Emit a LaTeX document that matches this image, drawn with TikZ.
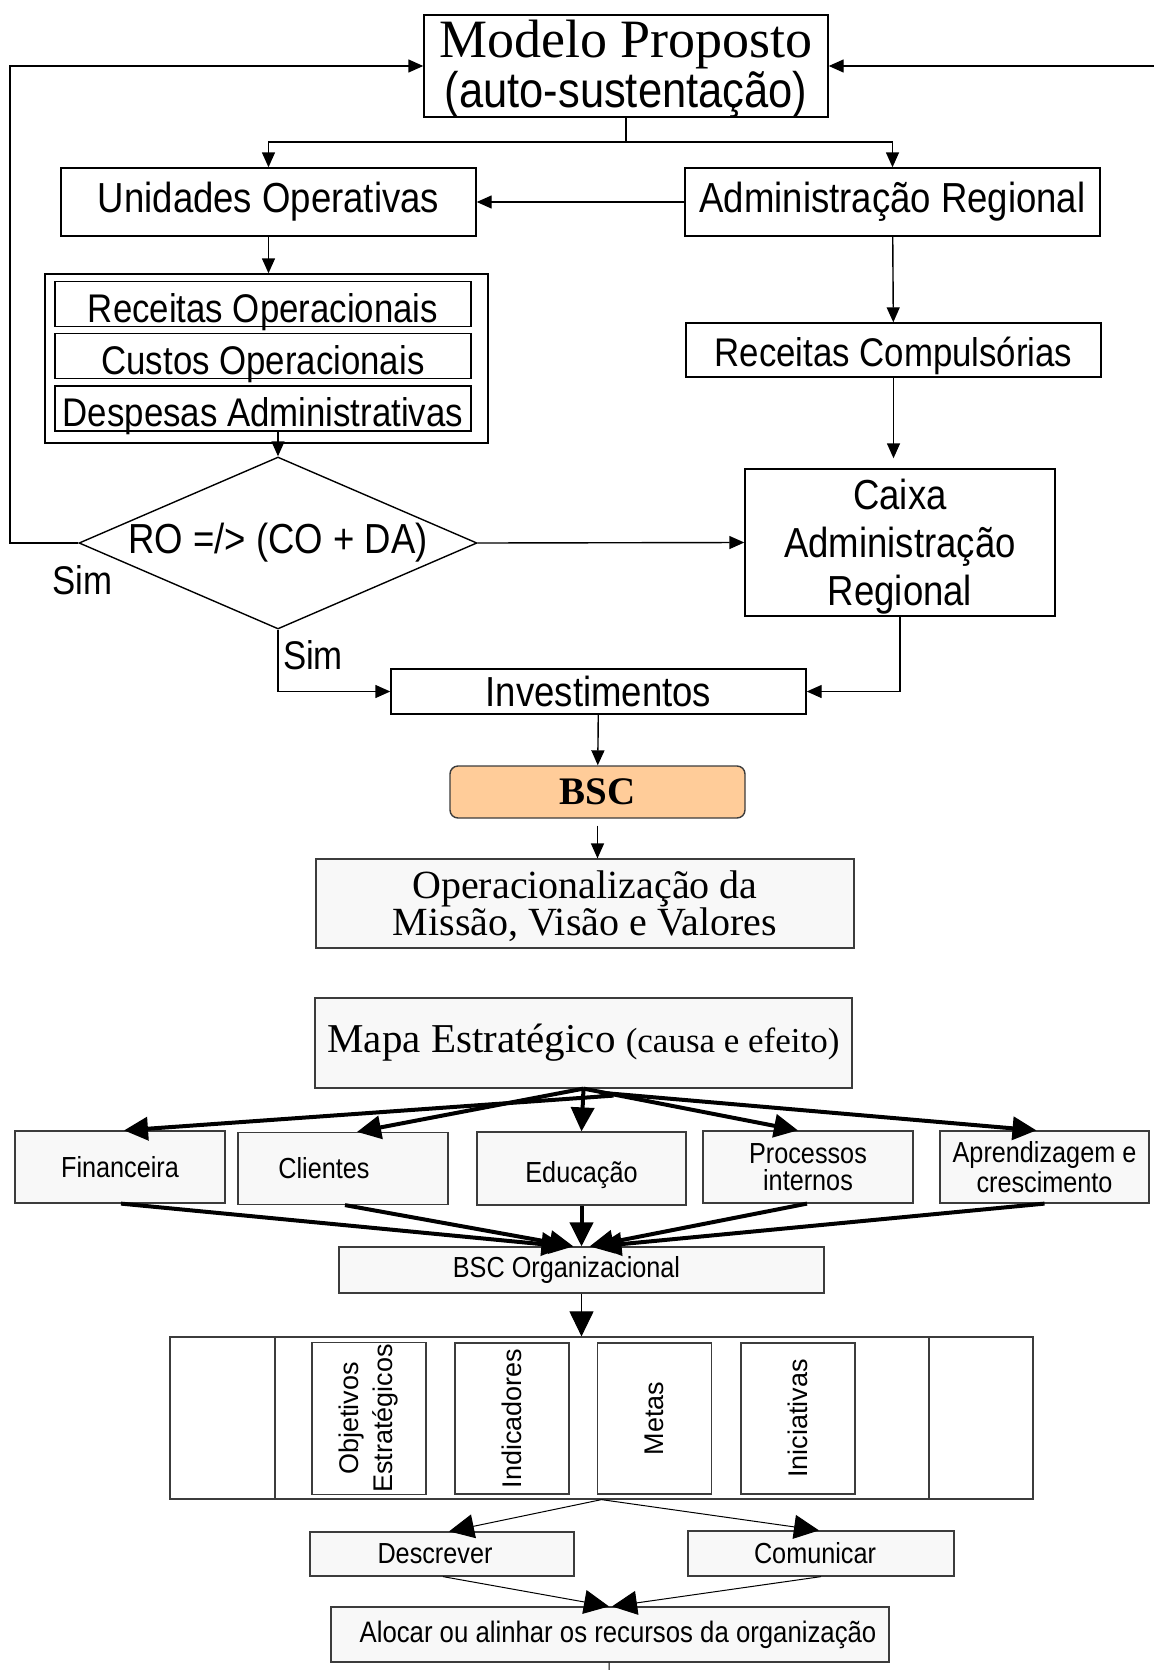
\documentclass[tikz,border=0pt]{standalone}
\usepackage{fontspec}
\setmainfont{Liberation Serif}
\setsansfont{Liberation Sans}
\newfontfamily\narrowsf[FakeStretch=0.87]{Liberation Sans}
\usepackage{xcolor}
\definecolor{ColBSC}{RGB}{255,204,153}
\definecolor{ColBox}{RGB}{248,248,248}
\definecolor{ColLine}{RGB}{60,60,60}
\usepackage{tikz}
\usetikzlibrary{shapes.geometric}
\usetikzlibrary{arrows.meta}
\tikzstyle{Box}=[draw=black,line width=0.7pt,inner sep=1pt,align=center,
font=\narrowsf\fontsize{21}{23}\selectfont]
\tikzstyle{BoxS}=[Box,text height=18pt,text depth=0pt,font=\narrowsf\fontsize{20}{22}\selectfont]
\tikzstyle{BoxG}=[draw=ColLine,fill=ColBox,line width=0.6pt,inner sep=1pt,
align=center,font=\narrowsf\fontsize{14.5}{15}\selectfont]
\tikzstyle{Col}=[draw=ColLine,line width=0.6pt,rotate=90,inner sep=1pt,
align=center,minimum width=75.5pt,minimum height=57pt,
font=\sffamily\fontsize{13.5}{17}\selectfont]
\tikzstyle{Label}=[font=\narrowsf\fontsize{20}{22}\selectfont]
\tikzstyle{Edge}=[draw=black,line width=0.7pt,-{Triangle[length=7.5pt,width=6.5pt]}]
\tikzstyle{EdgeT}=[draw=black,line width=2pt,-{Triangle[length=12pt,width=11.5pt]}]
\tikzstyle{EdgeB}=[draw=black,line width=0.5pt,-{Triangle[length=12.5pt,width=12pt]}]

\begin{document}
\begin{tikzpicture}[x=0.5pt,y=-0.5pt]
        \useasboundingbox (0,0) rectangle (1154,1670);
        \node[Box,minimum width=202pt,minimum height=51pt,text depth=2.5pt,
        font=\narrowsf\fontsize{25}{23.5}\selectfont](M)at(626,66){{\rmfamily\fontsize{27}{23.5}\selectfont Modelo Proposto}\\(auto-sustentação)};
        \node[Box,minimum width=207.5pt,minimum height=34pt](UO)at(268.5,202){Unidades Operativas};
        \node[Box,minimum width=207.5pt,minimum height=34pt](AR)at(892.5,202){Administração Regional};
        \node[draw,line width=0.7pt,minimum width=221.5pt,minimum height=84.5pt](OB)at(266.5,358.5){};
        \node[BoxS,minimum width=208pt,minimum height=22.5pt](RO)at(263,304){Receitas Operacionais};
        \node[BoxS,minimum width=208pt,minimum height=22.5pt](CO)at(263,356){Custos Operacionais};
        \node[BoxS,minimum width=208pt,minimum height=22.5pt](DA)at(263,408.5){Despesas Administrativas};
        \node[BoxS,text height=16pt,minimum width=207.5pt,minimum height=27pt](RC)at(893.5,350){Receitas Compulsórias};
        \node[draw,diamond,aspect=2.31,minimum width=199pt,minimum height=86pt,inner sep=0pt,
        line width=0.7pt,font=\narrowsf\fontsize{21}{23}\selectfont](D)at(278,543){RO =/> (CO + DA)};
        \node[Box,minimum width=155pt,minimum height=73.5pt,text depth=0pt,
        font=\narrowsf\fontsize{21}{24}\selectfont](CX)at(900,542.5){Caixa\\Administração\\Regional};
        \node[Label](S1)at(82.5,580){Sim};
        \node[Label](S2)at(313,655){Sim};
        \node[Box,minimum width=207.5pt,minimum height=22.5pt](Inv)at(598.5,691.5){Investimentos};
        \node[draw=ColLine,fill=ColBSC,rounded corners=4pt,line width=0.7pt,minimum width=147.5pt,
        minimum height=26pt,font=\bfseries\fontsize{19.5}{20}\selectfont](BSC)at(597.5,792){BSC};
        \node[BoxG,minimum width=269pt,minimum height=44.5pt,text depth=0pt,
        font=\fontsize{20}{18.5}\selectfont](OP)at(585,903.5){Operacionalização da\\Missão, Visão e Valores};
        \node[BoxG,minimum width=268.5pt,minimum height=45pt,
        font=\fontsize{20.5}{22}\selectfont](MP)at(583.5,1043){Mapa Estratégico {\fontsize{17.5}{20}\selectfont(causa e efeito)}};
        \node[BoxG,minimum width=105pt,minimum height=36pt](F)at(120,1167){Financeira};
        \node[BoxG,minimum width=105pt,minimum height=36pt](C)at(343,1168.5){Clientes\hspace*{19pt}};
        \node[BoxG,minimum width=104.5pt,minimum height=36.5pt,text height=14pt,text depth=0pt](E)at(581.5,1168.5){Educação};
        \node[BoxG,minimum width=105pt,minimum height=36pt,
        font=\narrowsf\fontsize{14.5}{13.5}\selectfont](P)at(808,1167){Processos\\internos};
        \node[BoxG,minimum width=104.5pt,minimum height=36pt](A)at(1044.5,1167){Aprendizagem e\\crescimento};
        \node[BoxG,minimum width=242.5pt,minimum height=23pt](BO)at(581.5,1270){BSC Organizacional\hspace*{15pt}};
        \node[draw=ColLine,line width=0.6pt,minimum width=431.5pt,minimum height=81pt](BB)at(601.5,1418){};
        \coordinate(V1)at(275,1418);
        \coordinate(V2)at(929,1418);
        \draw[draw=ColLine,line width=0.6pt](V1|-BB.north)--(V1|-BB.south);
        \draw[draw=ColLine,line width=0.6pt](V2|-BB.north)--(V2|-BB.south);
        \node[Col](Obj)at(369,1418.5){Objetivos\\Estratégicos};
        \node[Col](Ind)at(512,1418.5){Indicadores};
        \node[Col](Met)at(654.5,1418.5){Metas};
        \node[Col](Ini)at(798,1418.5){Iniciativas};
        \node[BoxG,minimum width=132pt,minimum height=22pt](De)at(442,1554){Descrever\hspace*{7pt}};
        \node[BoxG,minimum width=133pt,minimum height=22.5pt](Co)at(821,1553.5){Comunicar\hspace*{6pt}};
        \node[BoxG,minimum width=279pt,minimum height=27.5pt,
        font=\narrowsf\fontsize{14.8}{15}\selectfont](Al)at(610,1634.5){\hspace*{8pt}Alocar ou alinhar os recursos da organização};
        \coordinate(Lft)at(10,300);
        \coordinate(Rgt)at(1154,66);
        \coordinate(Br)at(626,142);
        \coordinate(End)at(609,1670);
        \draw[Edge](D.west)-|(Lft)|-(M.west);
        \draw[Edge](Rgt)--(M.east);
        \draw[line width=0.7pt](M)--(Br);
        \draw[Edge](Br)-|(UO.north);
        \draw[Edge](Br)-|(AR.north);
        \draw[Edge](AR)--(UO);
        \draw[Edge](UO)--(UO|-OB.north);
        \draw[Edge](D.north|-DA.south)--(D.north);
        \draw[Edge](AR)--(RC);
        \draw[Edge,shorten >=5pt](RC)--(RC|-CX.north);
        \draw[Edge](D.east)--(CX.west);
        \draw[Edge](D.south)|-(Inv.west);
        \draw[Edge](CX.south)|-(Inv.east);
        \draw[Edge](Inv)--(BSC);
        \draw[Edge,shorten <=3.5pt](BSC)--(BSC|-OP.north);
        \draw[EdgeT]([xshift=15pt,yshift=-3.5pt]MP.south)--([xshift=2pt]F.north);
        \draw[EdgeT](MP.south)--([xshift=7pt]C.north);
        \draw[EdgeT](MP.south)--(E.north);
        \draw[EdgeT](MP.south)--([xshift=-5pt]P.north);
        \draw[EdgeT]([xshift=8pt,yshift=-2pt]MP.south)--([xshift=-4pt]A.north);
        \draw[EdgeT]([xshift=0.5pt]F.south)--([xshift=-8pt]BO.north);
        \draw[EdgeT]([xshift=1pt]C.south)--([xshift=-4pt]BO.north);
        \draw[EdgeT](E.south)--(BO.north);
        \draw[EdgeT]([xshift=-0.5pt]P.south)--([xshift=4pt]BO.north);
        \draw[EdgeT](A.south)--([xshift=8pt]BO.north);
        \draw[EdgeB](BO)--(BO|-BB.north);
        \draw[EdgeB](BB.south)--([xshift=3.5pt]De.north);
        \draw[EdgeB](BB.south)--([xshift=-1pt]Co.north);
        \draw[EdgeB]([xshift=0.5pt]De.south)--([xshift=-0.5pt]Al.north);
        \draw[EdgeB](Co.south)--([xshift=1pt]Al.north);
        \draw[line width=0.5pt](Al)--(End);
    \end{tikzpicture}
\end{document}
